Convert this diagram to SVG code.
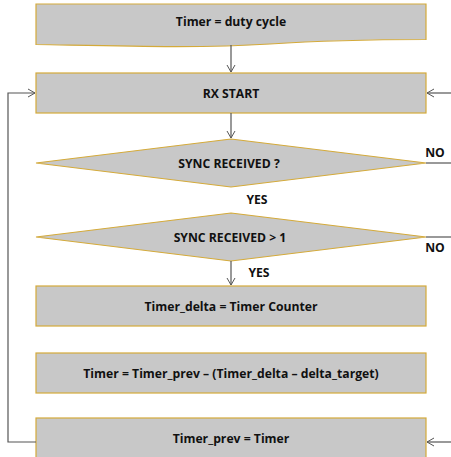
<svg xmlns="http://www.w3.org/2000/svg" width="451" height="457" viewBox="0 0 451 457">
<defs>
<marker id="arr" markerWidth="10" markerHeight="10" refX="8" refY="5" orient="auto" markerUnits="userSpaceOnUse">
<path d="M1,1 L8,5 L1,9" fill="none" stroke="#555" stroke-width="1"/>
</marker>
<style>
.box{fill:#c8c8c8;stroke:#d4aa3a;stroke-width:1.2}
.t{font-family:"Open Sans","Liberation Sans",sans-serif;font-weight:bold;font-size:12.2px;fill:#111;text-anchor:middle;dominant-baseline:central}
.c{fill:none;stroke:#555;stroke-width:1.2}
</style>
</defs>
<rect width="451" height="457" fill="#fff"/>
<g id="n1">
<path class="box" d="M36,4 H426 V39.5 C380,39.5 330,40 270,44 C200,48.5 120,46 36,44.5 Z"/>
<text class="t" x="231" y="21">Timer = duty cycle</text>
</g>
<g id="n2">
<rect class="box" x="36" y="73" width="390" height="40"/>
<text class="t" x="231" y="93">RX START</text>
</g>
<g id="n3">
<polygon class="box" points="231,139 426,163 231,187 36,163"/>
<text class="t" x="229" y="163">SYNC RECEIVED ?</text>
</g>
<g id="n4">
<polygon class="box" points="231,213 426,237 231,261 36,237"/>
<text class="t" x="230" y="237">SYNC RECEIVED &gt; 1</text>
</g>
<g id="n5">
<rect class="box" x="36" y="286" width="390" height="40"/>
<text class="t" x="231" y="306">Timer_delta = Timer Counter</text>
</g>
<g id="n6">
<rect class="box" x="36" y="353" width="390" height="40"/>
<text class="t" x="231" y="373">Timer = Timer_prev – (Timer_delta – delta_target)</text>
</g>
<g id="n7">
<rect class="box" x="36" y="418" width="390" height="45"/>
<text class="t" x="231" y="438">Timer_prev = Timer</text>
</g>
<g id="connectors">
<line class="c" x1="231" y1="45" x2="231" y2="72" marker-end="url(#arr)"/>
<line class="c" x1="231" y1="113" x2="231" y2="138" marker-end="url(#arr)"/>
<line class="c" x1="231" y1="261" x2="231" y2="285" marker-end="url(#arr)"/>
<polyline class="c" points="36,442 8,442 8,93 35,93" marker-end="url(#arr)"/>
<line class="c" x1="451" y1="93" x2="427" y2="93" marker-end="url(#arr)"/>
<line class="c" x1="451" y1="442" x2="427" y2="442" marker-end="url(#arr)"/>
<line class="c" x1="426" y1="163" x2="451" y2="163"/>
<line class="c" x1="426" y1="237" x2="451" y2="237"/>
<text class="t" x="435" y="152">NO</text>
<text class="t" x="435" y="247">NO</text>
<text class="t" x="257" y="199">YES</text>
<text class="t" x="259" y="272">YES</text>
</g>
</svg>
